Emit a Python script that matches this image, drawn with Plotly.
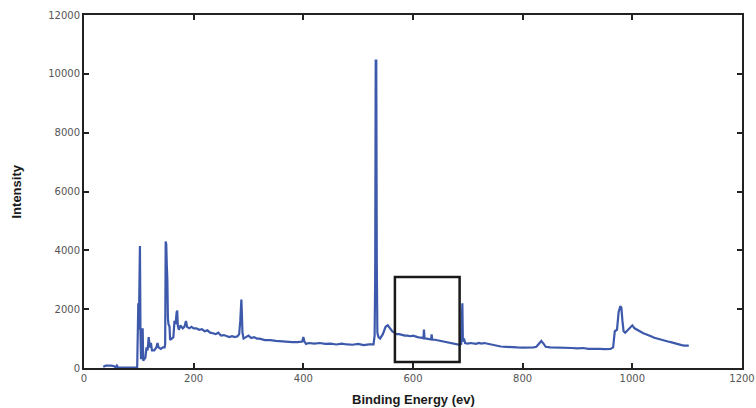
import plotly.graph_objects as go

# Spectrum: binding energy (eV) and intensity
energy = [35, 40, 50, 55, 58, 60, 62, 70, 80, 90, 97, 98, 99, 100, 101, 102, 103, 104, 105, 106,
          107, 108, 110, 112, 114, 116, 118, 120, 122, 124, 128, 132, 134, 136, 140, 144, 147, 148,
          149, 150, 151, 152, 153, 154, 156, 157, 160, 163, 165, 167, 169, 170, 171, 173, 176, 180,
          183, 186, 188, 192, 196, 200, 205, 210, 215, 220, 225, 230, 235, 240, 245, 250, 255, 260,
          265, 270, 275, 280, 283, 285, 287, 288, 289, 291, 295, 300, 305, 310, 315, 320, 330, 340,
          350, 360, 370, 380, 390, 398, 400, 402, 405, 410, 420, 430, 440, 450, 460, 470, 480, 490,
          500, 510, 520, 528, 530, 531, 532, 533, 534, 535, 537, 540, 545, 550, 554, 558, 562, 566,
          570, 575, 580, 585, 590, 595, 600, 605, 610, 615, 619, 620, 621, 625, 630, 633, 634, 635,
          640, 645, 650, 655, 660, 665, 670, 675, 680, 685, 688, 689, 690, 691, 693, 695, 700, 705,
          710, 715, 720, 725, 730, 735, 740, 745, 750, 760, 770, 780, 790, 800, 810, 820, 825, 830,
          834, 838, 842, 850, 860, 870, 880, 890, 900, 910, 920, 930, 940, 950, 960, 965, 968, 972,
          975, 978, 980, 982, 984, 987, 990, 995, 1000, 1004, 1008, 1012, 1016, 1020, 1025, 1030,
          1035, 1040, 1045, 1050, 1055, 1060, 1065, 1070, 1075, 1080, 1085, 1090, 1095, 1100, 1103]

intensity = [40, 80, 80, 60, 20, 80, 20, 10, 10, 10, 10, 1000, 2200, 1300, 4150, 4150, 1200, 300, 1300, 900,
             1350, 250, 300, 350, 700, 600, 1050, 700, 850, 600, 600, 700, 850, 700, 650, 700, 700, 800,
             4300, 4200, 3500, 3000, 1700, 1500, 1400, 950, 1000, 1050, 1600, 1500, 1900, 1950, 1450, 1300, 1450, 1350,
             1400, 1600, 1400, 1350, 1400, 1350, 1350, 1300, 1320, 1250, 1280, 1200, 1180, 1150, 1200, 1100, 1120, 1080,
             1050, 1080, 1050, 1080, 1150, 1600, 2330, 1800, 1200, 1000, 1050, 1100, 1020, 1050, 1000, 1000, 950, 950,
             920, 900, 900, 880, 880, 900, 1050, 900, 820, 850, 830, 850, 820, 830, 800, 830, 800, 790,
             820, 780, 800, 800, 1100, 3000, 10450, 10450, 3500, 1200, 1050, 1000, 1150, 1400, 1450, 1350, 1250, 1200,
             1150, 1150, 1120, 1100, 1100, 1080, 1100, 1060, 1040, 1030, 1010, 1310, 1010, 1000, 980, 970, 1140, 970,
             960, 940, 930, 900, 900, 880, 860, 830, 800, 790, 820, 2200, 2200, 900, 1000, 850, 830, 850,
             840, 820, 850, 830, 850, 830, 820, 800, 760, 730, 720, 700, 700, 695, 690, 700, 720, 850,
             920, 830, 720, 700, 700, 690, 690, 680, 670, 680, 650, 660, 650, 640, 650, 700, 1250, 1300,
             1900, 2100, 2050, 1600, 1250, 1200, 1250, 1350, 1450, 1350, 1300, 1250, 1200, 1180, 1150, 1100,
             1070, 1030, 1000, 980, 950, 920, 900, 880, 850, 830, 800, 780, 760, 770, 760]

# Highlight box (data coordinates)
box_x = [567, 685]
box_y = [200, 3090]

x_ticks = [0, 200, 400, 600, 800, 1000, 1200]
y_ticks = [0, 2000, 4000, 6000, 8000, 10000, 12000]

fig = go.Figure()
fig.add_trace(go.Scatter(x=energy, y=intensity, mode="lines",
                         line=dict(color="#3d59ab", width=2.2), showlegend=False))

fig.add_shape(type="rect", xref="x", yref="y", x0=box_x[0], x1=box_x[1], y0=box_y[0], y1=box_y[1],
              line=dict(color="#1a1a1a", width=2.5), fillcolor="rgba(0,0,0,0)")

axis_common = dict(showgrid=False, zeroline=False, showline=True, linecolor="#222222", linewidth=2,
                   mirror="ticks", ticks="inside", ticklen=5, tickwidth=2, tickcolor="#222222",
                   automargin=False, ticklabeloverflow="allow",
                   tickfont=dict(family="DejaVu Sans", size=10, color="#555555"))

fig.update_xaxes(range=[0, 1200], tickvals=x_ticks, ticktext=[str(v) for v in x_ticks], **axis_common)
fig.update_yaxes(range=[0, 12000], tickvals=y_ticks, ticktext=[str(v) for v in y_ticks], **axis_common)

title_font = dict(family="Liberation Sans Narrow, Arial Narrow, Liberation Sans", size=13, color="#1a1a1a")
fig.add_annotation(text="<b>Intensity</b>", xref="paper", yref="paper", x=0, y=0.5, xshift=-68,
                   textangle=-90, showarrow=False, font=title_font, xanchor="center", yanchor="middle")
fig.add_annotation(text="<b>Binding Energy (ev)</b>", xref="paper", yref="paper", x=0.5, y=0, yshift=-31,
                   showarrow=False, font=title_font, xanchor="center", yanchor="middle")

fig.update_layout(width=756, height=408, margin=dict(l=84, r=14, t=15, b=40),
                  plot_bgcolor="white", paper_bgcolor="white", hovermode=False)

# remove the page's default body margin so the 756x408 figure fills the window exactly
fig.write_html("out.html", config={"displayModeBar": False},
               post_script="document.body.style.margin='0';document.body.style.overflow='hidden';")
